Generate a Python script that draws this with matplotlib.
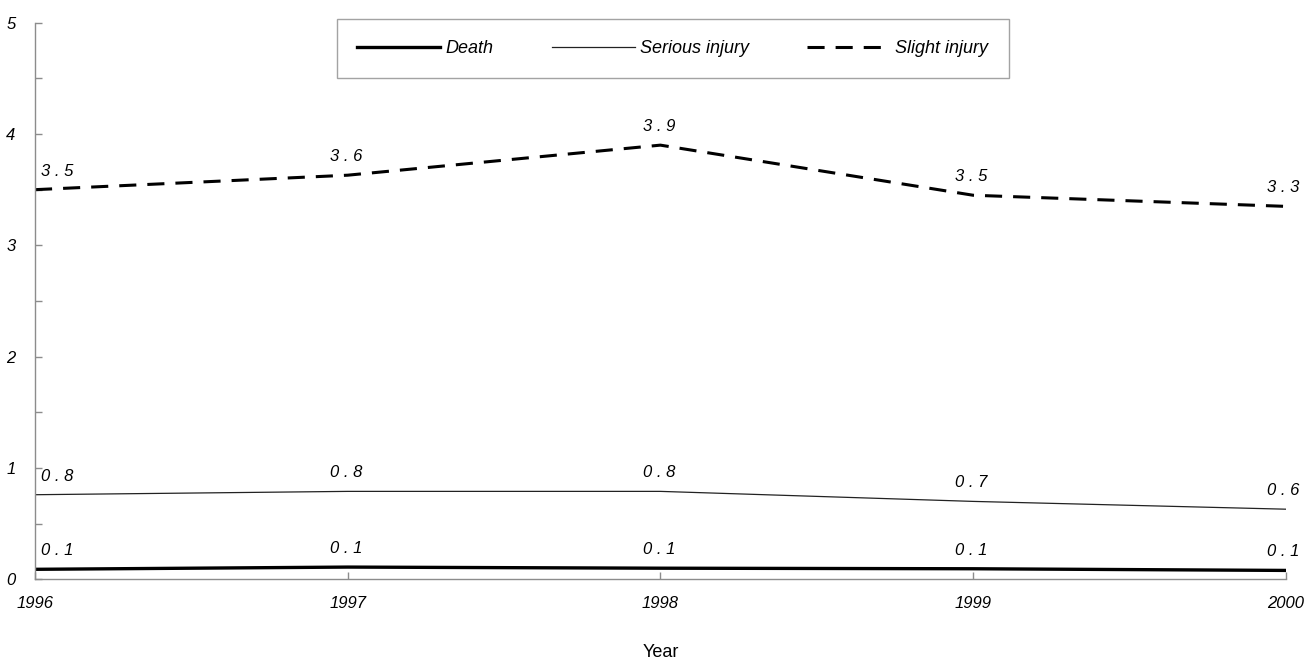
import numpy as np
import matplotlib
matplotlib.use("Agg")
import matplotlib.pyplot as plt

years = [1996, 1997, 1998, 1999, 2000]
death = [0.09, 0.11, 0.10, 0.095, 0.08]
serious = [0.76, 0.79, 0.79, 0.70, 0.63]
slight = [3.50, 3.63, 3.90, 3.45, 3.35]

death_labels = ["0.1", "0.1", "0.1", "0.1", "0.1"]
serious_labels = ["0.8", "0.8", "0.8", "0.7", "0.6"]
slight_labels = ["3.5", "3.6", "3.9", "3.5", "3.3"]

AXIS_GRAY = "#8c8c8c"

plt.rcParams.update({
    "font.family": ["Liberation Sans", "DejaVu Sans"],
    "font.size": 12,
})

fig = plt.figure(figsize=(13.06, 6.63), dpi=100)
ax = fig.add_axes([0.0268, 0.1262, 0.9577, 0.8396])

ax.plot(years, death, color="black", lw=2.4, label="Death")
ax.plot(years, serious, color="#222222", lw=0.9, label="Serious injury")
ax.plot(years, slight, color="black", lw=2.2, dashes=(5.6, 3.6), label="Slight injury")


def spaced(s):
    return " ".join(s)


def label_series(xs, ys, labels):
    n = len(xs)
    for i, (x, y, t) in enumerate(zip(xs, ys, labels)):
        if i == 0:
            ha, dx = "left", 4
        elif i == n - 1:
            ha, dx = "center", -2
        else:
            ha, dx = "center", -1
        ax.annotate(spaced(t), (x, y), xytext=(dx, 8), textcoords="offset points",
                    ha=ha, va="bottom", fontsize=12, style="italic")


label_series(years, death, death_labels)
label_series(years, serious, serious_labels)
label_series(years, slight, slight_labels)

ax.set_xlim(1996, 2000)
ax.set_ylim(0, 5)
ax.set_xticks(years)
ax.set_xticklabels([str(y) for y in years], style="italic", fontsize=12)
ax.set_yticks(np.arange(0, 6, 1))
ax.set_yticklabels([str(v) for v in range(6)], style="italic", fontsize=12)
ax.set_yticks(np.arange(0.5, 5, 1), minor=True)

ax.tick_params(axis="both", which="both", direction="in", color=AXIS_GRAY, length=5, width=1)
ax.tick_params(axis="y", which="major", pad=14)
ax.tick_params(axis="x", which="major", pad=12)

for s in ["top", "right"]:
    ax.spines[s].set_visible(False)
for s in ["left", "bottom"]:
    ax.spines[s].set_color(AXIS_GRAY)
    ax.spines[s].set_linewidth(1)

ax.set_xlabel("Year", fontsize=13, labelpad=24)

leg = ax.legend(loc="upper center", bbox_to_anchor=(0.510, 1.006), ncol=3, frameon=True,
                fancybox=False, edgecolor=AXIS_GRAY, prop={"style": "italic", "size": 13},
                handlelength=4.6, handletextpad=0.3, columnspacing=3.2,
                borderpad=1.15, borderaxespad=0)
leg.get_frame().set_linewidth(1)

fig.savefig("out.png", dpi=100, facecolor="white")
